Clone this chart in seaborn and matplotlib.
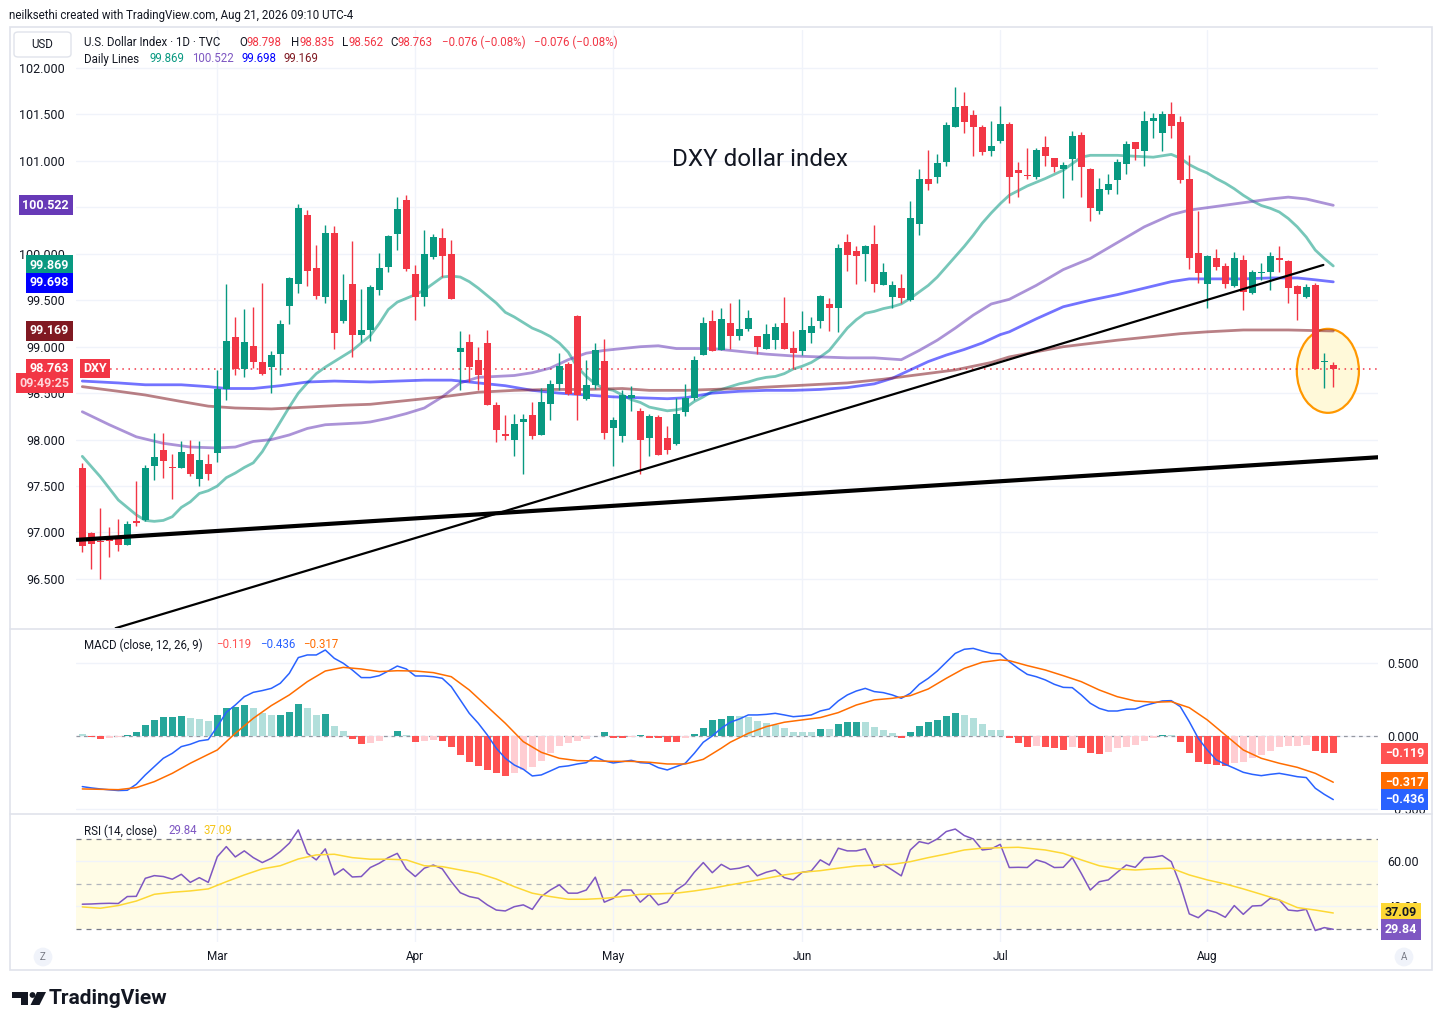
import numpy as np
import pandas as pd
import matplotlib
matplotlib.use("Agg")
import matplotlib.pyplot as plt
import matplotlib.patches as mpatches
import matplotlib.transforms as mtransforms
from matplotlib.lines import Line2D
import seaborn as sns

sns.set_theme(style="white")
plt.rcParams["font.family"] = ["Roboto", "DejaVu Sans"]
plt.rcParams["axes.unicode_minus"] = True

# ---------------- data ----------------
dates = pd.bdate_range("2026-02-09", "2026-08-21")

opens = [97.69, 96.99, 96.91, 96.95, 96.93, 96.87, 97.12, 97.13, 97.72, 97.89,
         97.70, 97.69, 97.84, 97.58, 97.74, 97.86, 98.54, 99.10, 98.76, 99.01,
         98.84, 98.78, 98.92, 99.44, 99.68, 100.42, 99.85, 99.54, 100.22, 99.28,
         99.67, 99.13, 99.18, 99.61, 99.86, 100.21, 100.58, 99.78, 99.53, 99.97,
         100.17, 100.00, 98.94, 99.05, 98.86, 99.04, 98.37, 98.06, 98.00, 98.19,
         98.27, 98.05, 98.38, 98.60, 98.81, 99.33, 98.44, 98.59, 98.85, 98.12,
         98.04, 98.45, 98.31, 98.02, 98.24, 98.02, 97.95, 98.30, 98.45, 98.91,
         99.28, 98.96, 99.26, 99.11, 99.19, 99.11, 98.98, 99.07, 99.25, 98.99,
         98.95, 99.15, 99.28, 99.46, 99.42, 100.13, 100.03, 100.00, 100.11, 99.66,
         99.53, 99.63, 99.50, 100.32, 100.81, 100.83, 100.99, 101.36, 101.59, 101.49,
         101.36, 101.11, 101.21, 101.40, 100.90, 100.85, 100.83, 101.15, 101.03, 100.91,
         101.02, 101.28, 100.91, 100.46, 100.69, 100.79, 100.97, 101.20, 101.11, 101.43,
         101.30, 101.51, 101.42, 100.81, 100.01, 99.68, 99.96, 99.87, 99.65, 99.93,
         99.58, 99.79, 99.80, 99.95, 99.92, 99.65, 99.53, 99.66, 98.83, 98.798]
highs = [97.75, 97.01, 97.26, 97.06, 97.15, 97.12, 97.55, 97.73, 98.07, 98.07,
         97.84, 97.98, 98.00, 97.98, 97.84, 98.75, 99.67, 99.32, 99.41, 99.43,
         99.69, 98.95, 99.29, 99.75, 100.54, 100.47, 100.10, 100.31, 100.30, 99.78,
         100.14, 99.62, 99.66, 100.01, 100.20, 100.61, 100.63, 99.88, 100.26, 100.21,
         100.28, 100.15, 99.17, 99.14, 99.00, 99.18, 98.41, 98.27, 98.28, 98.28,
         98.40, 98.56, 98.64, 98.93, 98.83, 99.34, 98.86, 99.04, 99.08, 98.24,
         98.53, 98.58, 98.34, 98.28, 98.27, 98.15, 98.45, 98.60, 98.90, 99.32,
         99.40, 99.42, 99.47, 99.51, 99.40, 99.12, 99.24, 99.25, 99.53, 99.17,
         99.38, 99.32, 99.56, 99.52, 100.11, 100.21, 100.08, 100.09, 100.31, 99.90,
         99.71, 99.78, 100.57, 100.91, 101.12, 101.07, 101.42, 101.80, 101.74, 101.55,
         101.39, 101.43, 101.59, 101.42, 100.99, 101.14, 101.14, 101.27, 101.03, 100.99,
         101.32, 101.31, 100.92, 100.82, 100.86, 101.02, 101.21, 101.20, 101.54, 101.52,
         101.54, 101.63, 101.48, 101.06, 100.46, 99.99, 100.05, 99.90, 100.02, 99.99,
         99.83, 99.90, 100.02, 100.08, 99.93, 99.66, 99.68, 99.69, 98.93, 98.835]
lows = [96.79, 96.61, 96.50, 96.74, 96.80, 96.87, 97.07, 97.12, 97.56, 97.59,
        97.36, 97.69, 97.61, 97.50, 97.56, 97.76, 98.43, 98.70, 98.67, 98.77,
        98.70, 98.50, 98.70, 99.24, 99.58, 99.65, 99.51, 99.47, 98.98, 99.25,
        98.89, 99.05, 99.06, 99.56, 99.80, 100.04, 99.81, 99.29, 99.44, 99.94,
        99.75, 99.51, 98.53, 98.62, 98.53, 98.37, 97.97, 98.00, 97.82, 97.63,
        98.01, 98.05, 98.21, 98.53, 98.48, 98.21, 98.43, 98.55, 98.01, 97.72,
        97.97, 98.31, 97.63, 97.82, 97.83, 97.85, 97.94, 98.25, 98.43, 98.91,
        98.95, 98.96, 98.97, 99.07, 99.17, 98.92, 98.98, 98.97, 98.97, 98.76,
        98.91, 99.04, 99.20, 99.17, 99.16, 99.82, 99.68, 99.71, 99.59, 99.66,
        99.42, 99.47, 99.49, 100.20, 100.69, 100.76, 100.95, 101.36, 101.30, 101.05,
        101.06, 101.05, 101.19, 100.55, 100.61, 100.81, 100.80, 100.95, 100.88, 100.60,
        100.79, 100.61, 100.35, 100.43, 100.64, 100.64, 100.86, 101.01, 100.94, 101.25,
        101.11, 101.25, 100.76, 99.84, 99.69, 99.42, 99.83, 99.63, 99.64, 99.40,
        99.57, 99.72, 99.61, 99.80, 99.47, 99.29, 99.52, 98.76, 98.56, 98.562]
closes = [96.86, 96.88, 96.90, 96.91, 96.87, 97.09, 97.10, 97.69, 97.81, 97.77,
          97.69, 97.87, 97.63, 97.78, 97.63, 98.54, 99.06, 98.76, 99.05, 98.84,
          98.71, 98.91, 99.24, 99.74, 100.49, 99.81, 99.55, 100.22, 99.15, 99.50,
          99.13, 99.18, 99.64, 99.85, 100.19, 100.48, 99.84, 99.54, 100.00, 100.18,
          99.98, 99.51, 98.99, 98.78, 98.69, 98.37, 98.10, 98.04, 98.17, 98.22,
          98.04, 98.40, 98.60, 98.79, 98.49, 98.48, 98.59, 98.96, 98.07, 98.21,
          98.48, 98.48, 98.00, 98.25, 97.83, 97.89, 98.28, 98.45, 98.86, 99.26,
          98.95, 99.30, 99.11, 99.19, 99.31, 99.00, 99.14, 99.21, 98.98, 98.93,
          99.18, 99.22, 99.55, 99.42, 100.06, 99.99, 99.98, 100.08, 99.67, 99.80,
          99.66, 99.52, 100.39, 100.81, 100.75, 100.98, 101.39, 101.58, 101.42, 101.36,
          101.10, 101.16, 101.40, 100.83, 100.87, 100.84, 101.12, 101.05, 100.93, 100.96,
          101.27, 100.93, 100.49, 100.70, 100.75, 100.99, 101.18, 101.13, 101.43, 101.46,
          101.50, 101.38, 100.79, 99.96, 99.79, 99.98, 99.86, 99.68, 99.95, 99.59,
          99.80, 99.80, 99.98, 99.93, 99.63, 99.57, 99.64, 98.76, 98.84, 98.763]

# daily moving-average lines, read at bar numbers (1 = first bar)
ma20_day = [1, 3, 5, 7, 8, 9, 10, 11, 12, 13, 14, 15, 16, 17, 18, 19, 20, 21, 22, 23,
            24, 25, 26, 27, 28, 29, 30, 31, 32, 33, 34, 35, 36, 37, 38, 39, 40, 41, 42, 43,
            44, 45, 46, 47, 48, 49, 50, 51, 52, 53, 54, 55, 56, 57, 58, 59, 60, 61, 62, 63,
            64, 65, 66, 67, 68, 69, 70, 71, 72, 73, 74, 75, 76, 77, 78, 79, 80, 81, 82, 83,
            84, 85, 86, 87, 88, 89, 90, 91, 92, 93, 94, 95, 96, 97, 98, 99, 100, 101, 102, 103,
            104, 106, 108, 110, 112, 113, 116, 118, 120, 122, 123, 124, 125, 126, 127, 128, 129, 130, 131, 132,
            133, 134, 135, 136, 137, 138, 139, 140]
ma20 = [97.82, 97.60, 97.35, 97.19, 97.13, 97.12, 97.13, 97.17, 97.27, 97.33, 97.42, 97.45, 97.50, 97.59, 97.64, 97.70, 97.75, 97.87, 98.03, 98.19,
        98.35, 98.50, 98.61, 98.71, 98.78, 98.84, 98.90, 98.96, 99.04, 99.12, 99.25, 99.40, 99.48, 99.52, 99.56, 99.61, 99.68, 99.75, 99.76, 99.75,
        99.70, 99.63, 99.55, 99.47, 99.37, 99.32, 99.26, 99.20, 99.16, 99.11, 99.04, 98.94, 98.78, 98.68, 98.60, 98.55, 98.53, 98.48, 98.43, 98.40,
        98.35, 98.33, 98.31, 98.32, 98.34, 98.41, 98.46, 98.52, 98.54, 98.57, 98.60, 98.62, 98.65, 98.67, 98.68, 98.71, 98.76, 98.79, 98.83, 98.89,
        98.96, 99.08, 99.20, 99.29, 99.36, 99.38, 99.41, 99.43, 99.46, 99.52, 99.59, 99.66, 99.75, 99.86, 99.97, 100.08, 100.20, 100.33, 100.44, 100.54,
        100.63, 100.73, 100.81, 100.90, 101.04, 101.06, 101.06, 101.05, 101.04, 101.07, 101.03, 100.96, 100.91, 100.87, 100.81, 100.76, 100.70, 100.63, 100.57, 100.52,
        100.49, 100.45, 100.38, 100.29, 100.18, 100.04, 99.95, 99.869]
ma50_day = [1, 4, 7, 10, 13, 16, 18, 20, 22, 24, 26, 28, 30, 32, 33, 35, 37, 39, 41, 43,
            45, 47, 49, 51, 53, 55, 57, 59, 61, 63, 65, 67, 71, 74, 77, 80, 83, 86, 89, 92,
            94, 96, 98, 100, 102, 104, 107, 110, 113, 116, 119, 122, 124, 127, 130, 133, 135, 137, 140]
ma50 = [98.30, 98.16, 98.03, 97.96, 97.92, 97.91, 97.92, 97.98, 98.00, 98.05, 98.12, 98.16, 98.17, 98.18, 98.19, 98.23, 98.28, 98.34, 98.46, 98.61,
        98.67, 98.68, 98.69, 98.72, 98.77, 98.86, 98.93, 98.96, 98.98, 99.00, 99.01, 98.98, 98.98, 98.95, 98.92, 98.90, 98.89, 98.88, 98.88, 98.86,
        98.96, 99.07, 99.20, 99.34, 99.46, 99.51, 99.66, 99.83, 99.95, 100.12, 100.29, 100.42, 100.47, 100.51, 100.55, 100.59, 100.61, 100.59, 100.522]
ma100_day = [1, 5, 8, 12, 15, 17, 20, 23, 26, 29, 33, 36, 39, 42, 45, 48, 51, 54, 57, 60,
             63, 66, 68, 71, 74, 77, 80, 83, 86, 89, 91, 93, 95, 97, 99, 101, 103, 104, 107, 110,
             113, 116, 119, 122, 124, 127, 130, 133, 136, 138, 140]
ma100 = [98.63, 98.61, 98.59, 98.59, 98.57, 98.55, 98.55, 98.58, 98.62, 98.63, 98.62, 98.63, 98.64, 98.64, 98.61, 98.58, 98.53, 98.50, 98.48, 98.46,
         98.45, 98.44, 98.45, 98.50, 98.52, 98.53, 98.53, 98.54, 98.56, 98.60, 98.66, 98.75, 98.84, 98.91, 98.97, 99.04, 99.13, 99.16, 99.30, 99.43,
         99.50, 99.56, 99.63, 99.70, 99.73, 99.73, 99.73, 99.74, 99.74, 99.72, 99.698]
ma200_day = [1, 5, 8, 12, 15, 18, 22, 26, 30, 33, 37, 41, 45, 49, 53, 57, 61, 64, 68, 74,
             80, 86, 90, 94, 98, 102, 104, 110, 116, 120, 123, 126, 130, 135, 140]
ma200 = [98.57, 98.52, 98.48, 98.41, 98.36, 98.34, 98.33, 98.35, 98.37, 98.38, 98.42, 98.46, 98.51, 98.53, 98.54, 98.54, 98.55, 98.53, 98.53, 98.55,
         98.58, 98.61, 98.65, 98.70, 98.75, 98.83, 98.89, 99.00, 99.07, 99.11, 99.14, 99.16, 99.18, 99.18, 99.169]

# drawn trend lines: (bar position, price) end points
thick_trend_x = [-0.7, 144.0]
thick_trend_y = [96.92, 97.81]
thin_trend_x = [3.7, 137.9]
thin_trend_y = [95.97, 99.88]

# MACD (12, 26, 9)
macd_hist = [0.016, -0.007, -0.018, -0.016, -0.009, 0.007, 0.027, 0.075, 0.110, 0.130,
             0.131, 0.137, 0.126, 0.116, 0.103, 0.144, 0.194, 0.201, 0.212, 0.194,
             0.158, 0.144, 0.145, 0.162, 0.219, 0.194, 0.144, 0.148, 0.071, 0.034,
             -0.018, -0.055, -0.048, -0.034, 0.002, 0.034, 0.009, -0.039, -0.034, -0.030,
             -0.034, -0.073, -0.130, -0.176, -0.203, -0.233, -0.256, -0.272, -0.251, -0.233,
             -0.210, -0.171, -0.114, -0.068, -0.050, -0.034, -0.021, -0.002, 0.027, -0.011,
             -0.016, -0.009, 0.009, -0.011, -0.016, -0.039, -0.043, -0.014, 0.014, 0.055,
             0.110, 0.116, 0.138, 0.137, 0.132, 0.103, 0.087, 0.075, 0.053, 0.027,
             0.026, 0.025, 0.048, 0.046, 0.082, 0.096, 0.097, 0.094, 0.064, 0.041,
             0.021, -0.011, 0.027, 0.071, 0.094, 0.110, 0.137, 0.158, 0.144, 0.121,
             0.080, 0.043, 0.040, -0.011, -0.046, -0.073, -0.071, -0.075, -0.084, -0.096,
             -0.073, -0.084, -0.119, -0.126, -0.107, -0.084, -0.073, -0.062, -0.034, -0.011,
             0.007, 0.005, -0.039, -0.119, -0.176, -0.189, -0.199, -0.203, -0.187, -0.180,
             -0.153, -0.130, -0.103, -0.073, -0.072, -0.071, -0.062, -0.103, -0.114, -0.119]
macd_line = [-0.347, -0.356, -0.363, -0.369, -0.374, -0.372, -0.331, -0.267, -0.210, -0.153,
             -0.119, -0.073, -0.057, -0.034, -0.025, 0.064, 0.162, 0.212, 0.269, 0.299,
             0.311, 0.326, 0.361, 0.429, 0.537, 0.555, 0.555, 0.589, 0.532, 0.498,
             0.452, 0.400, 0.400, 0.413, 0.445, 0.479, 0.459, 0.411, 0.411, 0.406,
             0.395, 0.338, 0.247, 0.155, 0.087, 0.007, -0.084, -0.153, -0.199, -0.228,
             -0.274, -0.267, -0.240, -0.212, -0.205, -0.192, -0.183, -0.142, -0.171, -0.185,
             -0.176, -0.167, -0.183, -0.187, -0.217, -0.233, -0.210, -0.187, -0.119, -0.043,
             0.000, 0.053, 0.094, 0.116, 0.144, 0.144, 0.148, 0.155, 0.144, 0.132,
             0.137, 0.144, 0.171, 0.185, 0.240, 0.281, 0.308, 0.326, 0.304, 0.297,
             0.281, 0.258, 0.292, 0.354, 0.395, 0.445, 0.505, 0.566, 0.594, 0.600,
             0.582, 0.566, 0.562, 0.509, 0.463, 0.422, 0.406, 0.384, 0.354, 0.333,
             0.331, 0.281, 0.224, 0.189, 0.171, 0.171, 0.183, 0.185, 0.208, 0.224,
             0.240, 0.242, 0.201, 0.098, -0.016, -0.096, -0.164, -0.194, -0.221, -0.249,
             -0.263, -0.272, -0.263, -0.256, -0.267, -0.279, -0.285, -0.358, -0.400, -0.436]
signal_day = [1, 5, 7, 9, 11, 13, 15, 16, 18, 20, 22, 24, 26, 28, 30, 32, 34, 36, 38, 40,
              42, 44, 46, 48, 50, 52, 54, 56, 58, 60, 62, 64, 66, 68, 70, 72, 73, 75, 77, 79,
              81, 83, 85, 87, 89, 91, 93, 95, 97, 99, 101, 103, 104, 106, 108, 110, 112, 114, 116, 118,
              120, 122, 124, 126, 128, 130, 132, 134, 136, 138, 140]
signal_line = [-0.363, -0.368, -0.354, -0.313, -0.256, -0.187, -0.126, -0.096, 0.018, 0.121,
               0.208, 0.281, 0.372, 0.445, 0.470, 0.459, 0.441, 0.447, 0.445, 0.434,
               0.406, 0.315, 0.201, 0.087, -0.039, -0.112, -0.153, -0.169, -0.171, -0.174,
               -0.174, -0.180, -0.192, -0.192, -0.160, -0.084, -0.043, 0.018, 0.064, 0.094,
               0.110, 0.126, 0.160, 0.212, 0.247, 0.258, 0.276, 0.322, 0.395, 0.463,
               0.505, 0.521, 0.516, 0.482, 0.452, 0.413, 0.372, 0.315, 0.269, 0.240,
               0.231, 0.235, 0.194, 0.110, 0.007, -0.096, -0.153, -0.187, -0.215, -0.256,
               -0.317]

# RSI (14) and its moving average
rsi = [41.0, 41.1, 41.3, 41.4, 41.3, 44.4, 44.5, 52.5, 53.7, 53.3,
       52.1, 54.3, 50.7, 52.8, 50.7, 62.1, 66.6, 62.0, 64.7, 61.7,
       59.5, 61.4, 64.4, 68.1, 74.0, 63.6, 60.7, 65.6, 54.0, 56.7,
       53.1, 53.3, 57.3, 59.2, 61.7, 63.6, 56.7, 53.3, 57.0, 58.4,
       56.7, 51.0, 46.1, 44.4, 43.6, 40.7, 38.4, 38.0, 39.9, 40.7,
       38.7, 44.4, 47.3, 49.6, 45.9, 45.9, 47.3, 53.0, 41.9, 43.6,
       47.3, 47.3, 41.9, 45.4, 40.7, 41.9, 47.3, 50.0, 55.2, 59.5,
       55.0, 58.7, 56.5, 57.0, 58.1, 53.6, 55.2, 56.2, 52.8, 51.8,
       55.2, 55.8, 60.7, 58.4, 65.9, 64.7, 64.7, 65.6, 57.3, 58.7,
       56.2, 53.6, 65.1, 68.8, 67.9, 70.0, 73.3, 74.4, 71.5, 70.0,
       65.1, 65.6, 67.6, 57.3, 57.4, 57.3, 60.7, 59.5, 57.3, 57.4,
       61.7, 54.7, 47.3, 51.0, 51.8, 55.2, 58.4, 57.4, 61.7, 61.9,
       62.6, 59.9, 49.6, 36.7, 35.0, 38.4, 37.3, 35.2, 40.4, 36.5,
       40.2, 40.4, 43.6, 42.9, 38.4, 38.0, 38.7, 29.3, 30.6, 29.84]
rsi_ma_day = [1, 3, 5, 7, 9, 11, 13, 15, 17, 19, 21, 23, 25, 27, 29, 31, 33, 35, 37, 39,
              41, 43, 45, 47, 49, 51, 53, 55, 57, 59, 61, 63, 65, 67, 69, 71, 73, 75, 77, 79,
              81, 83, 85, 87, 89, 91, 93, 95, 97, 99, 101, 103, 105, 108, 110, 112, 114, 116, 118, 120,
              122, 124, 126, 128, 130, 132, 134, 136, 138, 140]
rsi_ma = [39.8, 39.2, 40.4, 42.4, 45.4, 46.3, 46.9, 47.8, 51.0, 54.0, 56.7, 58.1, 61.1, 62.9, 63.2, 61.7, 61.0, 61.0, 60.7, 58.1,
          57.7, 56.2, 54.7, 52.2, 48.8, 45.9, 44.4, 43.2, 43.2, 43.6, 44.4, 45.4, 45.6, 45.9, 46.9, 48.1, 49.6, 51.0, 52.5, 54.0,
          55.2, 55.9, 57.0, 58.0, 58.4, 58.7, 59.9, 61.7, 63.3, 65.1, 65.9, 66.1, 66.3, 65.1, 63.6, 60.7, 58.1, 56.7, 56.2, 56.7,
          57.0, 54.0, 51.8, 50.0, 47.8, 45.4, 42.9, 39.5, 38.4, 37.09]

# ---------------- style ----------------
UP, DOWN = "#089981", "#f23645"
TXT = "#131722"
GRID = "#f0f3fa"
W, H = 1441, 1030


def fx(px):
    return px / W


def fy(py):
    return 1 - py / H


fig = plt.figure(figsize=(W / 100, H / 100), dpi=100)
fig.patch.set_facecolor("white")
L, R = 76, 1378
ax = fig.add_axes([fx(L), fy(628), fx(R) - fx(L), fy(30) - fy(628)])
axm = fig.add_axes([fx(L), fy(812), fx(R) - fx(L), fy(630) - fy(812)], sharex=ax)
axr = fig.add_axes([fx(L), fy(942), fx(R) - fx(L), fy(816) - fy(942)], sharex=ax)

x = np.arange(len(closes))
o, h, l, c = map(np.array, (opens, highs, lows, closes))
month_pos = [i for i in range(1, len(dates)) if dates[i].month != dates[i - 1].month]
month_lab = [dates[i].strftime("%b") for i in month_pos]

for a in (ax, axm, axr):
    for s in a.spines.values():
        s.set_visible(False)
    a.set_facecolor("none")
    a.set_xticks(month_pos)
    a.tick_params(axis="both", length=0, colors=TXT)
    a.grid(True, color=GRID, lw=1)
    a.set_axisbelow(True)
ax.set_xlim(-0.7, 143.97)

# ---------------- price pane ----------------
ax.add_patch(mpatches.Ellipse((138.4, 98.74), 6.9, 0.904, fc="#fff9d9", ec="#ff9800",
                              lw=1.6, zorder=1.5))
col = np.where(c >= o, UP, DOWN)
ax.vlines(x, l, h, colors=col, lw=1, zorder=4)
ax.bar(x, np.maximum(np.abs(c - o), 0.012), bottom=np.minimum(o, c), width=0.72,
       color=col, linewidth=0, zorder=5)

for days, vals, colr in ((ma20_day, ma20, "#089981"), (ma50_day, ma50, "#673ab7"),
                         (ma100_day, ma100, "#0000ff"), (ma200_day, ma200, "#801922")):
    sns.lineplot(x=np.array(days) - 1, y=vals, ax=ax, color=colr, lw=2, alpha=0.55,
                 legend=False, zorder=3)
ax.plot(thick_trend_x, thick_trend_y, color="black", lw=3, solid_capstyle="butt", zorder=6)
ax.plot(thin_trend_x, thin_trend_y, color="black", lw=1.6, zorder=6)
ax.axhline(closes[-1], xmin=(104 - L) / (R - L), color=DOWN, ls=(0, (1, 3)), lw=1.1, zorder=2)

ax.set_ylim(95.972, 102.409)
ticks = np.arange(96.5, 102.01, 0.5)
ax.set_yticks(ticks)
# the 100.500 label sits fully under the 50-day tag in the reference
ax.set_yticklabels(["" if abs(t - 100.5) < 1e-6 else f"{t:.3f}" for t in ticks], fontsize=9)
ax.tick_params(axis="y", pad=8)
ax.tick_params(axis="x", labelbottom=False)


def left_tag(val, text, fc, dy=0, tc="white"):
    ax.annotate(text, xy=(0, val), xycoords=("axes fraction", "data"), xytext=(-5, dy),
                textcoords="offset points", ha="right", va="center", fontsize=9,
                fontweight="bold", color=tc, annotation_clip=False, zorder=10,
                bbox=dict(boxstyle="square,pad=0.28", fc=fc, ec="none"))


left_tag(ma50[-1], "100.522", "#673ab7")
left_tag(ma20[-1] + 0.01, "99.869", "#089981")
left_tag(ma100[-1] - 0.01, "99.698", "#0000ff")
left_tag(ma200[-1], "99.169", "#801922")
left_tag(closes[-1], "98.763", DOWN)
left_tag(closes[-1], "09:49:25", DOWN, dy=-10.5, tc="#ffd6da")
ax.annotate("DXY", xy=(0, closes[-1]), xycoords=("axes fraction", "data"), xytext=(5, 0),
            textcoords="offset points", ha="left", va="center", fontsize=9, fontweight="bold",
            color="white", zorder=10, bbox=dict(boxstyle="square,pad=0.25", fc=DOWN, ec="none"))

fig.text(fx(760), fy(160), "DXY dollar index", ha="center", va="center", fontsize=17.5,
         color=TXT)

# ---------------- MACD pane ----------------
hist = np.array(macd_hist)
prev = np.r_[hist[0], hist[:-1]]
hcol = np.where(hist >= 0, np.where(hist > prev, "#26a69a", "#b2dfdb"),
                np.where(hist > prev, "#ffcdd2", "#ff5252"))
axm.bar(x, hist, width=0.78, color=hcol, linewidth=0, zorder=2)
axm.axhline(0, color="#9598a1", ls=(0, (3, 3)), lw=0.9, zorder=1.5)
sns.lineplot(x=x, y=macd_line, ax=axm, color="#2962ff", lw=1.1, legend=False, zorder=3)
sns.lineplot(x=np.array(signal_day) - 1, y=signal_line, ax=axm, color="#ff6d00", lw=1.1,
             legend=False, zorder=3)
axm.set_ylim(-0.521, 0.726)
axm.yaxis.tick_right()
axm.set_yticks([0.5, 0.0, -0.5])
axm.set_yticklabels(["0.500", "0.000", "\u22120.500"], fontsize=9)
axm.tick_params(axis="y", pad=7)
axm.tick_params(axis="x", labelbottom=False)


def right_tag(a, val, text, fc, tc="white"):
    a.annotate(text, xy=(1, val), xycoords=("axes fraction", "data"), xytext=(5, 0),
               textcoords="offset points", ha="left", va="center", fontsize=9,
               fontweight="bold", color=tc, annotation_clip=False, zorder=10,
               bbox=dict(boxstyle="square,pad=0.3", fc=fc, ec="none"))


right_tag(axm, macd_hist[-1], "\u22120.119", "#ff5252")
right_tag(axm, signal_line[-1], "\u22120.317", "#ff6d00")
right_tag(axm, macd_line[-1], "\u22120.436", "#2962ff")

# ---------------- RSI pane ----------------
axr.axhspan(30, 70, color="#fffce6", zorder=0.5, lw=0)
for lvl, lc in ((70, "#787b86"), (50, "#b2b5be"), (30, "#787b86")):
    axr.axhline(lvl, color=lc, ls=(0, (4, 4)), lw=0.9, zorder=1)
sns.lineplot(x=x, y=rsi, ax=axr, color="#7e57c2", lw=1.1, legend=False, zorder=3)
sns.lineplot(x=np.array(rsi_ma_day) - 1, y=rsi_ma, ax=axr, color="#fdd835", lw=1.1,
             legend=False, zorder=3)
axr.set_ylim(24.2, 80.2)
axr.yaxis.tick_right()
axr.set_yticks([60, 40])
axr.set_yticklabels(["60.00", "40.00"], fontsize=9)
axr.tick_params(axis="y", pad=7)
axr.set_xticklabels(month_lab, fontsize=8.5)
axr.tick_params(axis="x", pad=6)
right_tag(axr, rsi_ma[-1], "37.09", "#fdd835", tc=TXT)
right_tag(axr, rsi[-1], "29.84", "#7e57c2")
for a in (ax, axm, axr):
    a.set_xlabel("")
    a.set_ylabel("")

# ---------------- frame, separators, header texts ----------------
fig.add_artist(mpatches.Rectangle((fx(10), fy(970)), fx(1432) - fx(10), fy(27) - fy(970),
                                  transform=fig.transFigure, fc="none", ec="#e0e3eb", lw=1.2))
for py in (629, 814):
    fig.add_artist(Line2D([fx(10), fx(1432)], [fy(py), fy(py)], color="#e0e3eb", lw=1.2))

fig.text(fx(9), fy(15), "neilksethi created with TradingView.com, Aug 21, 2026 09:10 UTC-4",
         fontsize=8.3, color=TXT, va="center")
fig.add_artist(mpatches.FancyBboxPatch((fx(14), fy(57)), fx(71) - fx(14), fy(32) - fy(57),
                                       boxstyle="round,pad=0,rounding_size=0.003",
                                       transform=fig.transFigure, fc="white", ec="#e0e3eb", lw=1))
fig.text(fx(42.5), fy(44.5), "USD", fontsize=8.3, color=TXT, ha="center", va="center")

renderer = fig.canvas.get_renderer()


def segments(py, parts, size=8.3):
    # px=None puts the piece right after the previous one
    cursor = 0
    for text, px, colr in parts:
        start = cursor if px is None else px
        t = fig.text(fx(start), fy(py), text, fontsize=size, color=colr, va="center")
        cursor = start + t.get_window_extent(renderer).width


segments(42, [("U.S. Dollar Index \u00b7 1D \u00b7 TVC", 84, TXT),
              ("O", 239, TXT), ("98.798", None, DOWN), ("H", 291, TXT), ("98.835", None, DOWN),
              ("L", 342, TXT), ("98.562", None, DOWN), ("C", 390, TXT), ("98.763", None, DOWN),
              ("\u22120.076 (\u22120.08%)", 442, DOWN), ("\u22120.076 (\u22120.08%)", 534, DOWN)])
segments(59, [("Daily Lines", 84, TXT), ("99.869", 149, "#089981"), ("100.522", 192, "#7e57c2"),
              ("99.698", 241, "#0000ff"), ("99.169", 284, "#801922")])
segments(645, [("MACD (close, 12, 26, 9)", 84, TXT), ("\u22120.119", 216, "#ff5252"),
               ("\u22120.436", 260, "#2962ff"), ("\u22120.317", 303, "#ff6d00")])
segments(831, [("RSI (14, close)", 84, TXT), ("29.84", 168, "#7e57c2"), ("37.09", 204, "#f5c518")])

for px, letter in ((43, "Z"), (1404, "A")):
    fig.text(fx(px), fy(957), letter, fontsize=7, color="#787b86", ha="center", va="center",
             bbox=dict(boxstyle="circle,pad=0.45", fc="#f0f3fa", ec="none"))

# TradingView logo
T = mtransforms.Affine2D().scale(1, -1).translate(0, H)
fig.add_artist(mpatches.Polygon([(12, 992), (28, 992), (28, 1005), (21, 1005), (21, 998), (12, 998)],
                                closed=True, fc=TXT, ec="none", transform=T))
fig.add_artist(mpatches.Circle((32.5, 995), 2.9, fc=TXT, ec="none", transform=T))
fig.add_artist(mpatches.Polygon([(37, 992), (46, 992), (39.5, 1005), (30.5, 1005)],
                                closed=True, fc=TXT, ec="none", transform=T))
fig.text(fx(49), fy(999), "TradingView", fontsize=15, fontweight="bold", color=TXT, va="center")

fig.savefig("out.png", dpi=100, facecolor="white")
